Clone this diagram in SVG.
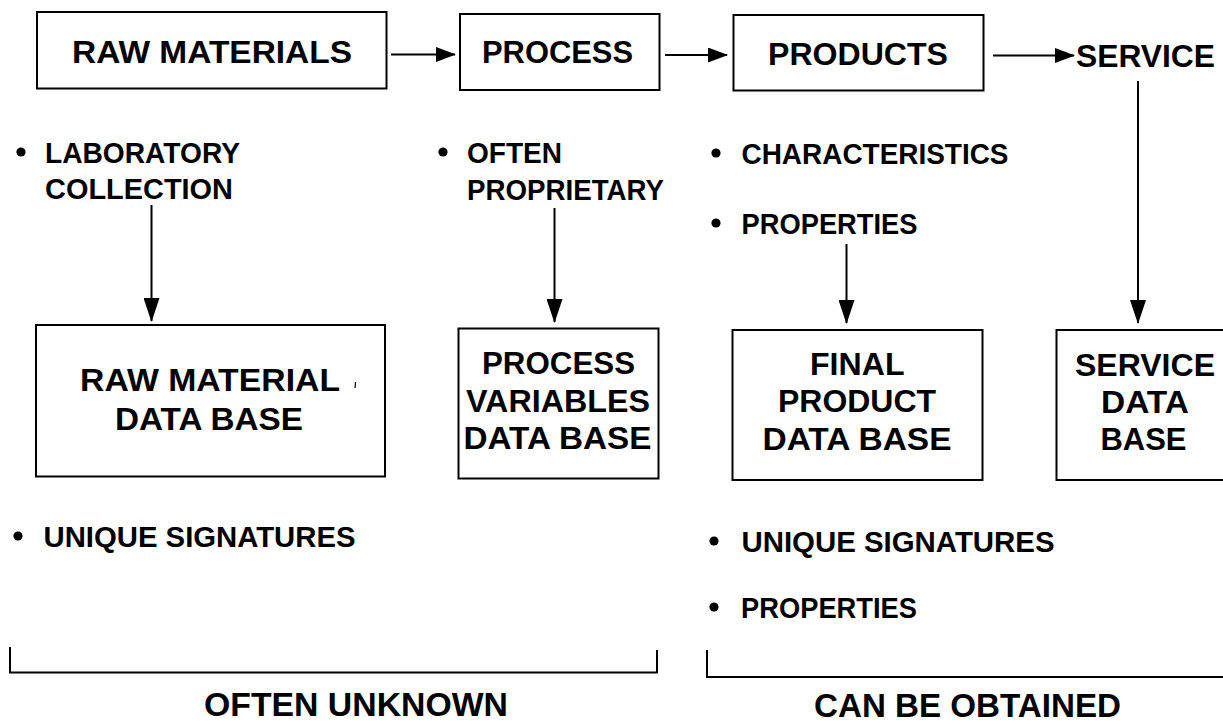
<svg xmlns="http://www.w3.org/2000/svg" width="1223" height="724" viewBox="0 0 1223 724">
<defs>
<marker id="ah" markerUnits="userSpaceOnUse" markerWidth="20" markerHeight="15" refX="19" refY="7.5" orient="auto">
<path d="M0,0 L20,7.5 L0,15 z" fill="#000"/>
</marker>
<marker id="av" markerUnits="userSpaceOnUse" markerWidth="24" markerHeight="16" refX="23" refY="8" orient="auto">
<path d="M0,0 L24,8 L0,16 z" fill="#000"/>
</marker>
</defs>
<style>
.box{fill:#fff;stroke:#000;stroke-width:2}
.t{font-family:"Liberation Sans",Arial,Helvetica,sans-serif;font-weight:bold;fill:#000}
.big{font-size:32px}
.sm{font-size:29px}
.lab{font-size:33px}
.ln{stroke:#000;stroke-width:2;fill:none}
</style>
<rect width="1223" height="724" fill="#fff"/>

<g id="connectors">
<line class="ln" x1="391" y1="54.5" x2="455" y2="54.5" marker-end="url(#ah)"/>
<line class="ln" x1="665" y1="55" x2="727" y2="55" marker-end="url(#ah)"/>
<line class="ln" x1="993" y1="55.5" x2="1074" y2="55.5" marker-end="url(#ah)"/>
<line class="ln" x1="151.5" y1="205" x2="151.5" y2="321" marker-end="url(#av)"/>
<line class="ln" x1="554.5" y1="208" x2="554.5" y2="322" marker-end="url(#av)"/>
<line class="ln" x1="846.5" y1="244" x2="846.5" y2="323" marker-end="url(#av)"/>
<line class="ln" x1="1138" y1="81" x2="1138" y2="323" marker-end="url(#av)"/>
</g>

<g id="raw-materials">
<rect class="box" x="37" y="12" width="349.5" height="76.5"/>
<text class="t big" x="72" y="63" textLength="280" lengthAdjust="spacingAndGlyphs">RAW MATERIALS</text>
</g>
<g id="process">
<rect class="box" x="460" y="14" width="199.5" height="76"/>
<text class="t big" x="482" y="63" textLength="151" lengthAdjust="spacingAndGlyphs">PROCESS</text>
</g>
<g id="products">
<rect class="box" x="733.5" y="15" width="250" height="75.5"/>
<text class="t big" x="768" y="64.5" textLength="180" lengthAdjust="spacingAndGlyphs">PRODUCTS</text>
</g>
<g id="service">
<text class="t big" x="1076" y="67" textLength="139" lengthAdjust="spacingAndGlyphs">SERVICE</text>
</g>

<g id="notes-raw">
<circle cx="21" cy="152" r="4.6"/>
<text class="t sm" x="45" y="162.5" textLength="195" lengthAdjust="spacingAndGlyphs">LABORATORY</text>
<text class="t sm" x="45" y="199" textLength="188" lengthAdjust="spacingAndGlyphs">COLLECTION</text>
</g>
<g id="notes-process">
<circle cx="443" cy="152" r="4.6"/>
<text class="t sm" x="467" y="163" textLength="95" lengthAdjust="spacingAndGlyphs">OFTEN</text>
<text class="t sm" x="467" y="199.5" textLength="197" lengthAdjust="spacingAndGlyphs">PROPRIETARY</text>
</g>
<g id="notes-products">
<circle cx="716" cy="153" r="4.6"/>
<text class="t sm" x="741.5" y="164" textLength="267" lengthAdjust="spacingAndGlyphs">CHARACTERISTICS</text>
<circle cx="716" cy="223" r="4.6"/>
<text class="t sm" x="741.5" y="234" textLength="176" lengthAdjust="spacingAndGlyphs">PROPERTIES</text>
</g>

<g id="raw-material-db">
<rect class="box" x="36" y="325" width="349" height="151.5"/>
<text class="t big" x="80" y="391" textLength="260" lengthAdjust="spacingAndGlyphs">RAW MATERIAL</text>
<text class="t big" x="115" y="430" textLength="188" lengthAdjust="spacingAndGlyphs">DATA BASE</text>
<line x1="355.5" y1="382" x2="355" y2="388" stroke="#000" stroke-width="1.2"/>
</g>
<g id="process-variables-db">
<rect class="box" x="458.5" y="328.5" width="200" height="150"/>
<text class="t big" x="482" y="374" textLength="153" lengthAdjust="spacingAndGlyphs">PROCESS</text>
<text class="t big" x="466" y="411.5" textLength="184" lengthAdjust="spacingAndGlyphs">VARIABLES</text>
<text class="t big" x="463.5" y="449" textLength="188" lengthAdjust="spacingAndGlyphs">DATA BASE</text>
</g>
<g id="final-product-db">
<rect class="box" x="732.5" y="330" width="250" height="150"/>
<text class="t big" x="810" y="375" textLength="94.5" lengthAdjust="spacingAndGlyphs">FINAL</text>
<text class="t big" x="778" y="412" textLength="158" lengthAdjust="spacingAndGlyphs">PRODUCT</text>
<text class="t big" x="762.5" y="450" textLength="189" lengthAdjust="spacingAndGlyphs">DATA BASE</text>
</g>
<g id="service-db">
<rect class="box" x="1056.5" y="330" width="180" height="150"/>
<text class="t big" x="1075" y="376" textLength="140" lengthAdjust="spacingAndGlyphs">SERVICE</text>
<text class="t big" x="1101" y="413" textLength="88" lengthAdjust="spacingAndGlyphs">DATA</text>
<text class="t big" x="1100.5" y="450" textLength="86" lengthAdjust="spacingAndGlyphs">BASE</text>
</g>

<g id="notes-raw-db">
<circle cx="18" cy="536" r="4.6"/>
<text class="t sm" x="43.5" y="546.5" textLength="312" lengthAdjust="spacingAndGlyphs">UNIQUE SIGNATURES</text>
</g>
<g id="notes-final-db">
<circle cx="714" cy="541" r="4.6"/>
<text class="t sm" x="741.5" y="551.5" textLength="313" lengthAdjust="spacingAndGlyphs">UNIQUE SIGNATURES</text>
<circle cx="714" cy="607" r="4.6"/>
<text class="t sm" x="741" y="618" textLength="176" lengthAdjust="spacingAndGlyphs">PROPERTIES</text>
</g>

<g id="often-unknown">
<path class="ln" d="M10,647 V672.5 H657 V650"/>
<text class="t lab" x="204" y="716" textLength="304" lengthAdjust="spacingAndGlyphs">OFTEN UNKNOWN</text>
</g>
<g id="can-be-obtained">
<path class="ln" d="M707,650 V677 H1223"/>
<text class="t lab" x="814" y="717" textLength="307" lengthAdjust="spacingAndGlyphs">CAN BE OBTAINED</text>
</g>
</svg>
